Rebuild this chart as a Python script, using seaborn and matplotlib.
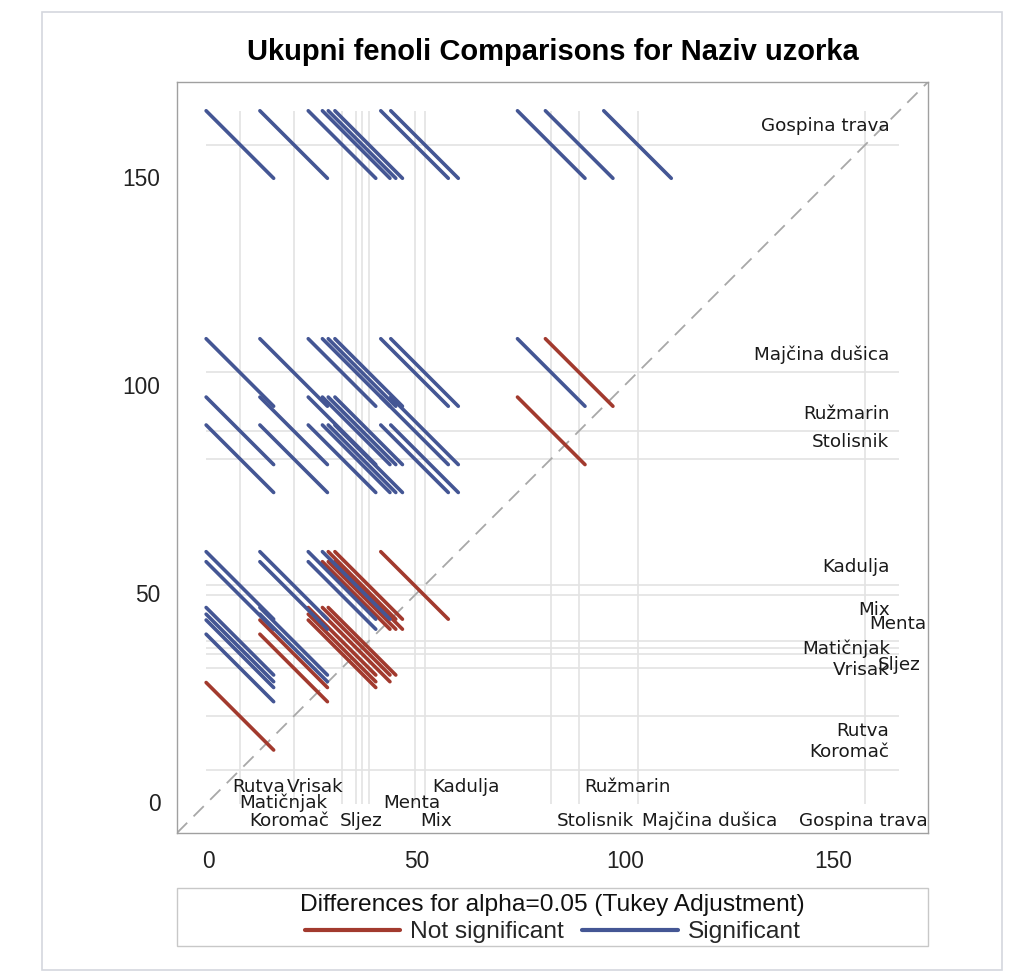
import numpy as np
import pandas as pd
import matplotlib
matplotlib.use("Agg")
import matplotlib.pyplot as plt
from matplotlib import font_manager
from matplotlib.lines import Line2D
from matplotlib.patches import Rectangle
import seaborn as sns

# group means (Ukupni fenoli) per sample, sorted low -> high
samples = ["Koromač", "Rutva", "Vrisak", "Sljez", "Matičnjak", "Menta", "Mix",
           "Kadulja", "Stolisnik", "Ružmarin", "Majčina dušica", "Gospina trava"]
means = [7.6, 20.5, 32.1, 35.5, 36.9, 38.5, 49.5, 51.9, 82.3, 89.0, 103.0, 157.7]
ci_half = 8.1  # half length of each Tukey interval segment along x (and y)

# label positions (data units) as SAS placed them
bottom_label_x = [19.4, 12.0, 25.6, 36.8, 18.0, 48.8, 54.8, 61.8, 92.8, 100.6, 120.4, 157.1]
bottom_label_y = [-4.6, 3.6, 3.6, -4.6, -0.3, -0.3, -4.6, 3.6, -4.6, 3.6, -4.6, -4.6]
right_label_x = [163.4, 163.4, 163.4, 170.8, 163.6, 172.4, 163.6, 163.4, 163.4, 163.4, 163.4, 163.4]
right_label_y = [12.0, 17.0, 31.6, 32.8, 36.8, 42.6, 46.0, 56.4, 86.2, 93.0, 107.2, 162.2]

ticks = [0, 50, 100, 150]
lims = (-7.5, 172.7)

RED = "#A23A2E"
BLUE = "#445694"

sns.set_theme(style="white")
names = {f.name for f in font_manager.fontManager.ttflist}
has_narrow = "Liberation Sans Narrow" in names
narrow = ["Liberation Sans Narrow", "Liberation Sans", "DejaVu Sans"]
nscale = 1.0 if has_narrow else 0.82
plt.rcParams["font.family"] = ["DejaVu Sans"]

# build the segment table: one row per end point
rows = []
k = 0
for i in range(len(means)):
    for j in range(i + 1, len(means)):
        lo, hi = means[i], means[j]
        sig = "Significant" if hi - lo > 2 * ci_half else "Not significant"
        rows.append(dict(pair=k, x=lo - ci_half, y=hi + ci_half, sig=sig))
        rows.append(dict(pair=k, x=lo + ci_half, y=hi - ci_half, sig=sig))
        k += 1
df = pd.DataFrame(rows)

fig = plt.figure(figsize=(10.17, 9.74), dpi=100)
ax = fig.add_axes([0.174, 0.1448, 0.7385, 0.771])

# reference lines at each mean
ref_lo, ref_hi = min(means) - ci_half, max(means) + ci_half
ax.vlines(means, ref_lo, ref_hi, color="#e3e3e3", lw=1.2, zorder=1)
ax.hlines(means, ref_lo, ref_hi, color="#e3e3e3", lw=1.2, zorder=1)

ax.plot(lims, lims, color="#a8a8a8", lw=1.3, ls=(0, (8, 5)), zorder=2)

sns.lineplot(data=df, x="x", y="y", units="pair", hue="sig", estimator=None,
             sort=False, palette={"Significant": BLUE, "Not significant": RED},
             lw=2.6, legend=False, ax=ax, zorder=3)

for name, x, y in zip(samples, bottom_label_x, bottom_label_y):
    ax.text(x, y, name, ha="center", va="center", fontsize=13.2, color="#1a1a1a", zorder=4)
for name, x, y in zip(samples, right_label_x, right_label_y):
    ax.text(x, y, name, ha="right", va="center", fontsize=13.2, color="#1a1a1a", zorder=4)

ax.set_xlim(lims)
ax.set_ylim(lims)
ax.set_xticks(ticks)
ax.set_yticks(ticks)
ax.set_xlabel("")
ax.set_ylabel("")
for lab in ax.get_xticklabels() + ax.get_yticklabels():
    lab.set_family(narrow)
    lab.set_fontsize(20 * nscale)
    lab.set_color("#222222")
ax.tick_params(direction="out", length=8, width=1, color="#888888", pad=4)
for s in ax.spines.values():
    s.set_color("#a0a0a0")
    s.set_linewidth(1)

fig.text(0.5433, 0.9466, "Ukupni fenoli Comparisons for Naziv uzorka", ha="center",
         va="center", fontsize=21, fontweight="bold",
         family=["Liberation Sans", "DejaVu Sans"], color="black")

# legend box under the plot
fig.patches.append(Rectangle((0.174, 0.0287), 0.7385, 0.0596, transform=fig.transFigure,
                             fill=False, edgecolor="#c8c8c8", lw=1))
fig.text(0.5433, 0.0708, "Differences for alpha=0.05 (Tukey Adjustment)", ha="center",
         va="center", fontsize=21.5 * nscale, family=narrow, color="#111111")
handles = [Line2D([], [], color=RED, lw=3), Line2D([], [], color=BLUE, lw=3)]
fig.legend(handles, ["Not significant", "Significant"], ncol=2, loc="center",
           bbox_to_anchor=(0.5433, 0.0431), frameon=False, handlelength=3.9,
           handletextpad=0.4, columnspacing=0.75, borderpad=0,
           prop=dict(family=narrow, size=21.5 * nscale))

# outer graph border
fig.patches.append(Rectangle((0.0413, 0.0041), 0.944, 0.9836, transform=fig.transFigure,
                             fill=False, edgecolor="#d4d7de", lw=1.2))

fig.savefig("out.png", dpi=100, facecolor="white")
